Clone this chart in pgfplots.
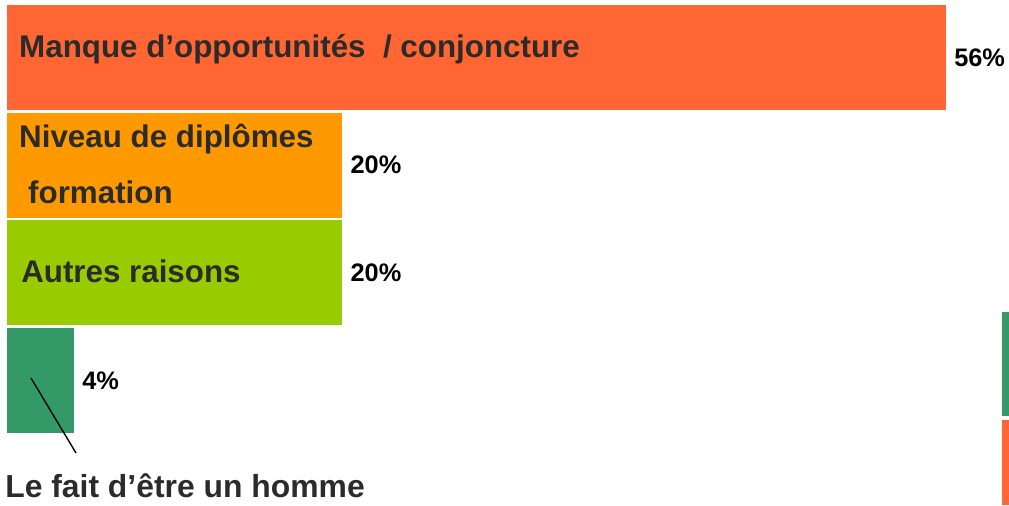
\documentclass[border=0pt]{standalone}
\usepackage{pgfplots}
\pgfplotsset{compat=1.18}
\usepackage{fontspec}
\setmainfont{Liberation Sans}
\definecolor{cA}{HTML}{FF6633}
\definecolor{cB}{HTML}{FF9900}
\definecolor{cC}{HTML}{99CC00}
\definecolor{cD}{HTML}{339966}
\definecolor{txt}{HTML}{2B2B2B}
\begin{document}
\begin{tikzpicture}
\begin{axis}[
  scale only axis,
  width=756.75pt, height=378.75pt,
  hide axis, clip=false,
  xmin=-0.4175, xmax=59.757,
  ymin=-1.156, ymax=3.534,
  xbar, bar shift=0pt, bar width=0.975,
  /pgf/number format/assume math mode=true,
  nodes near coords={\pgfmathprintnumber{\pgfplotspointmeta}\%},
  every node near coord/.append style={anchor=west, inner sep=0pt, xshift=6pt,
     font=\fontsize{19}{22}\selectfont\bfseries, text=black},
]
\addplot[fill=cA, draw=none] coordinates {(56,3)};
\addplot[fill=cB, draw=none] coordinates {(20,2)};
\addplot[fill=cC, draw=none] coordinates {(20,1)};
\addplot[fill=cD, draw=none] coordinates {(4,0)};
\begin{scope}[every node/.style={inner sep=0pt, anchor=base west, text=txt, font=\fontsize{23.5}{28}\selectfont\bfseries}]
\node at (rel axis cs:0.0188,0.8861) {Manque d’opportunités\ \ / conjoncture};
\node at (rel axis cs:0.0188,0.7089) {Niveau de diplômes};
\node at (rel axis cs:0.0277,0.598) {formation};
\node at (rel axis cs:0.0208,0.4396) {Autres raisons};
\node[font=\fontsize{23.9}{28}\selectfont\bfseries] at (rel axis cs:0.005,0.0158) {Le fait d’être un homme};
\end{scope}
\draw[black, line width=1.05pt] (rel axis cs:0.0307,0.2515) -- (rel axis cs:0.0753,0.103);
\fill[cD] (rel axis cs:0.993,0.1762) rectangle (rel axis cs:1,0.3822);
\fill[cA] (rel axis cs:0.993,0) rectangle (rel axis cs:1,0.1683);
\end{axis}
\pgfresetboundingbox
\useasboundingbox (current axis.south west) rectangle (current axis.north east);
\end{tikzpicture}
\end{document}
